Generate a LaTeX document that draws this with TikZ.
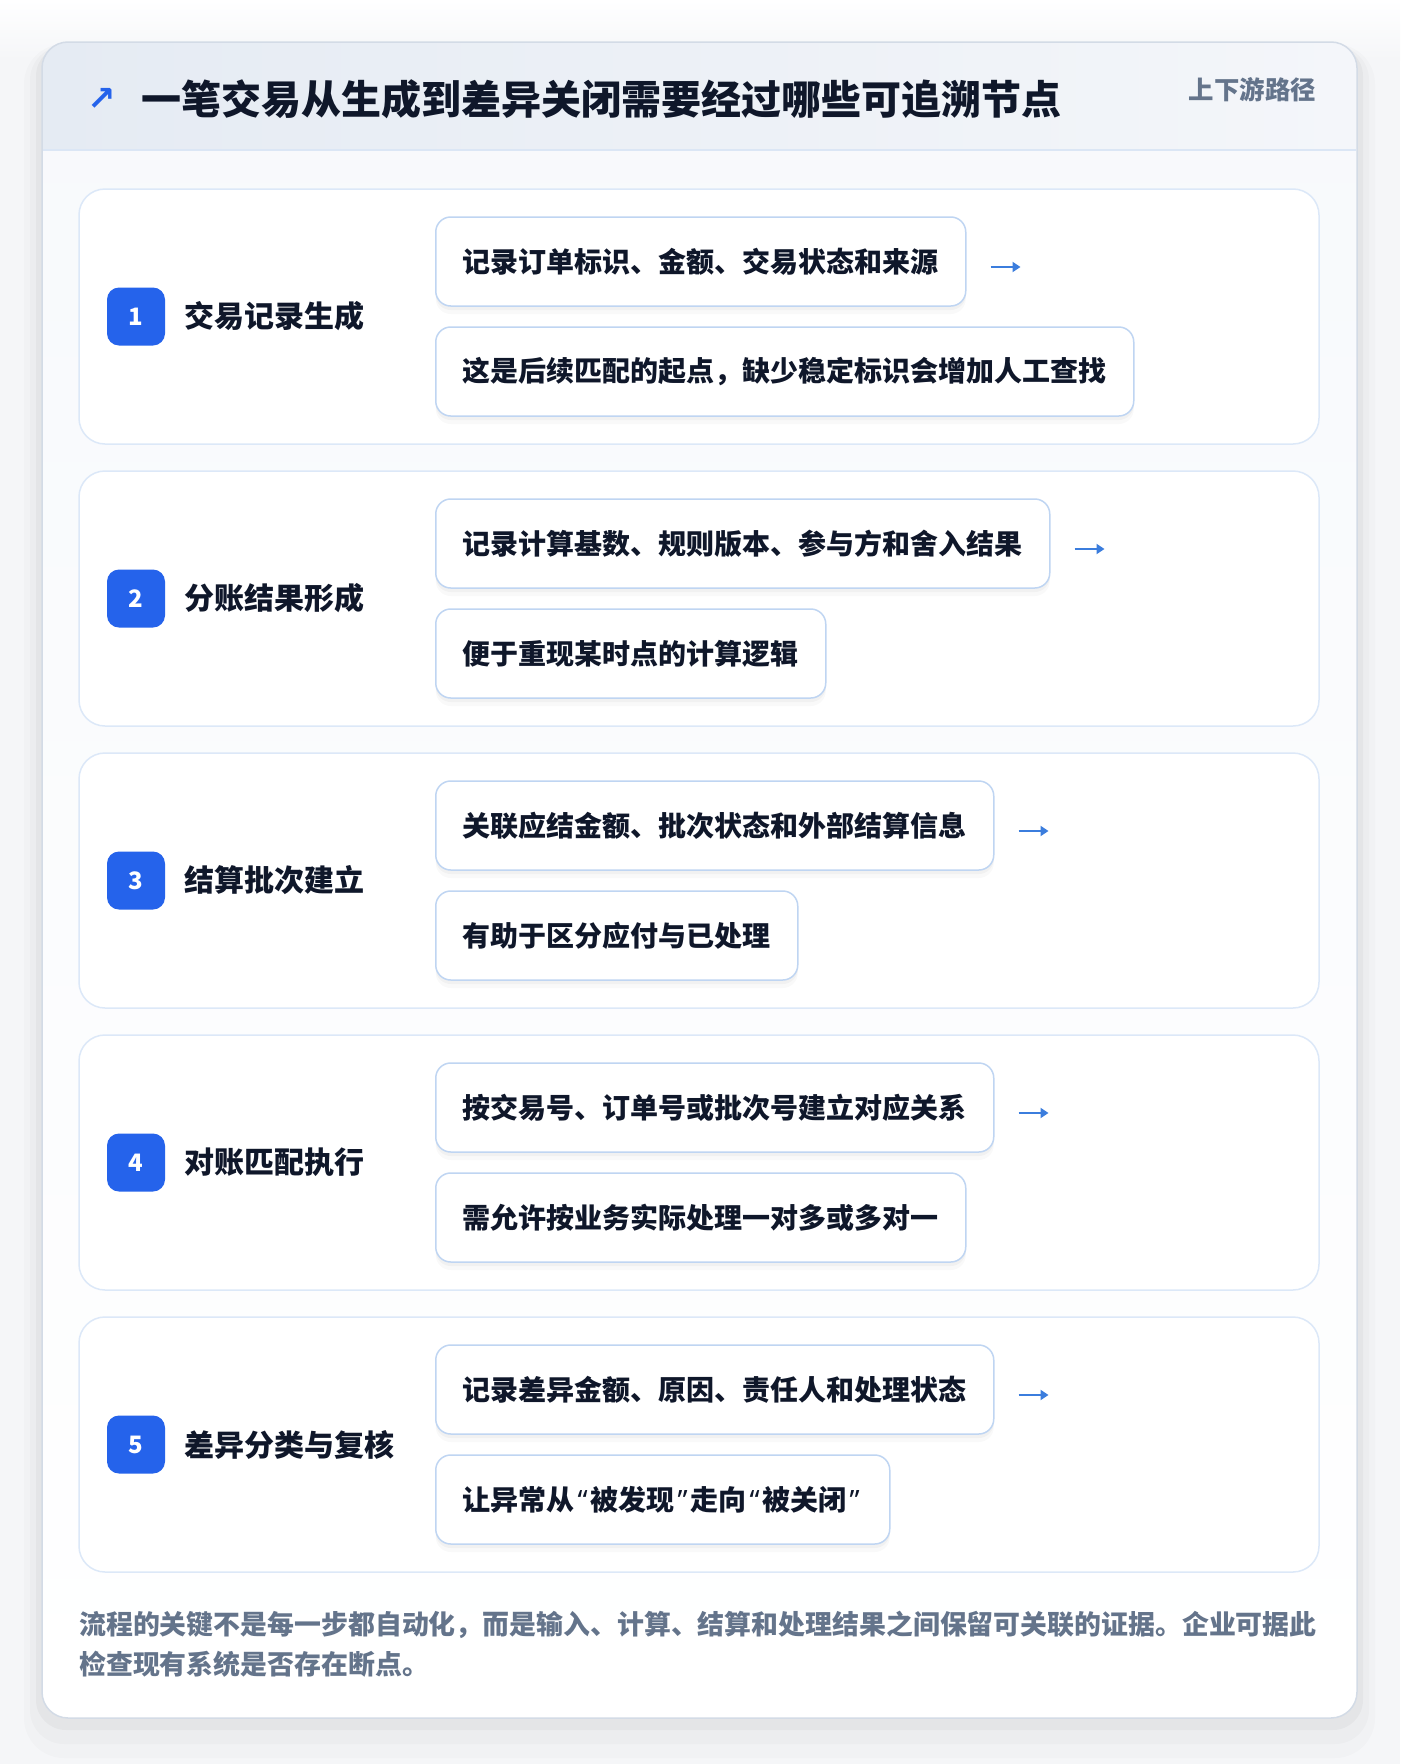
\documentclass[tikz,border=0pt]{standalone}
\usepackage{fontspec}
\setmainfont{Noto Sans CJK SC}
\newfontfamily\quotefont{Noto Sans}
\usetikzlibrary{shadows,arrows.meta}

\definecolor{pagebg}{HTML}{F5F6F8}
\definecolor{ink}{HTML}{0F172A}
\definecolor{muted}{HTML}{64748B}
\definecolor{accent}{HTML}{2563EB}
\definecolor{arrowblue}{HTML}{3B7DDD}
\definecolor{cardline}{HTML}{D3DBE6}
\definecolor{stepline}{HTML}{DCE8F8}
\definecolor{boxline}{HTML}{BFD5F2}
\definecolor{hdrleft}{HTML}{E5EBF3}
\definecolor{hdrright}{HTML}{F4F6FA}
\definecolor{hdrrule}{HTML}{DBE6F5}
\definecolor{bodytop}{HTML}{F7F9FC}

% Narrow quotes as in the reference
\newcommand{\openq}{\makebox[16pt][c]{\quotefont\bfseries“}}
\newcommand{\closeq}{\makebox[16pt][c]{\quotefont\bfseries”}}

\begin{document}
\begin{tikzpicture}[x=1pt, y=-1pt,
  stepcard/.style={draw=stepline, line width=1.5pt, fill=white, rounded corners=26pt,
    minimum width=1240pt, minimum height=255pt},
  badge/.style={fill=accent, rounded corners=12pt, minimum size=58pt, inner sep=0pt,
    text=white, font=\fontsize{24}{24}\selectfont\bfseries},
  steptitle/.style={anchor=west, inner sep=0pt, text=ink, font=\fontsize{30}{30}\selectfont\bfseries},
  infobox/.style={anchor=west, draw=boxline, line width=1.5pt, fill=white, rounded corners=15pt,
    minimum height=89pt, inner xsep=27pt, text=ink, font=\fontsize{28}{28}\selectfont\bfseries,
    drop shadow={shadow xshift=0pt, shadow yshift=-8pt, opacity=0.025, fill=black},
    drop shadow={shadow xshift=0pt, shadow yshift=-4pt, opacity=0.03, fill=black}},
  flowarrow/.style={draw=arrowblue, line width=2.6pt, -{Triangle[length=8pt, width=10pt]}}]
\useasboundingbox (0,0) rectangle (1400,1764);
\fill[pagebg] (0,0) rectangle (1400,1764);
\shade[top color=white, bottom color=pagebg] (0,0) rectangle (1400,60);

% Card shadow
\fill[black, opacity=0.015, rounded corners=40pt] (24,44) rectangle (1375,1758);
\fill[black, opacity=0.02, rounded corners=34pt] (30,46) rectangle (1369,1744);
\fill[black, opacity=0.03, rounded corners=30pt] (36,46) rectangle (1363,1730);

% Card body and header band
\shade[top color=bodytop, bottom color=white, rounded corners=26pt] (42,42) rectangle (1357,1718);
\begin{scope}
\clip[rounded corners=26pt] (42,42) rectangle (1357,1718);
\shade[left color=hdrleft, right color=hdrright] (42,42) rectangle (1357,150);
\end{scope}
\draw[hdrrule, line width=1.5pt] (43,150) -- (1356,150);
\draw[cardline, line width=1.5pt, rounded corners=26pt] (42,42) rectangle (1357,1718);

% Title
\node[text=accent, font=\fontspec{DejaVu Sans}\fontsize{34}{34}\selectfont\bfseries] (icon) at (102,99) {↗};
\node[anchor=west, inner sep=0pt, text=ink, font=\fontsize{40}{40}\selectfont\bfseries] (title) at (141,99)
  {一笔交易从生成到差异关闭需要经过哪些可追溯节点};
\node[anchor=east, inner sep=0pt, text=muted, font=\fontsize{25.4}{26}\selectfont\bfseries] (tag) at (1316,90)
  {上下游路径};

% Step 1
\node[stepcard] (card1) at (699,316.5) {};
\node[badge] (num1) at (136,316.5) {1};
\node[steptitle] (name1) at (184,316.5) {交易记录生成};
\node[infobox] (info1a) at (435,261.5) {记录订单标识、金额、交易状态和来源};
\node[infobox] (info1b) at (435,371.5) {这是后续匹配的起点，缺少稳定标识会增加人工查找};
\coordinate (next1) at ([xshift=24pt, yshift=-5.5pt]info1a.east);
\draw[flowarrow] (next1) -- ++(30,0);

% Step 2
\node[stepcard] (card2) at (699,598.5) {};
\node[badge] (num2) at (136,598.5) {2};
\node[steptitle] (name2) at (184,598.5) {分账结果形成};
\node[infobox] (info2a) at (435,543.5) {记录计算基数、规则版本、参与方和舍入结果};
\node[infobox] (info2b) at (435,653.5) {便于重现某时点的计算逻辑};
\coordinate (next2) at ([xshift=24pt, yshift=-5.5pt]info2a.east);
\draw[flowarrow] (next2) -- ++(30,0);

% Step 3
\node[stepcard] (card3) at (699,880.5) {};
\node[badge] (num3) at (136,880.5) {3};
\node[steptitle] (name3) at (184,880.5) {结算批次建立};
\node[infobox] (info3a) at (435,825.5) {关联应结金额、批次状态和外部结算信息};
\node[infobox] (info3b) at (435,935.5) {有助于区分应付与已处理};
\coordinate (next3) at ([xshift=24pt, yshift=-5.5pt]info3a.east);
\draw[flowarrow] (next3) -- ++(30,0);

% Step 4
\node[stepcard] (card4) at (699,1162.5) {};
\node[badge] (num4) at (136,1162.5) {4};
\node[steptitle] (name4) at (184,1162.5) {对账匹配执行};
\node[infobox] (info4a) at (435,1107.5) {按交易号、订单号或批次号建立对应关系};
\node[infobox] (info4b) at (435,1217.5) {需允许按业务实际处理一对多或多对一};
\coordinate (next4) at ([xshift=24pt, yshift=-5.5pt]info4a.east);
\draw[flowarrow] (next4) -- ++(30,0);

% Step 5
\node[stepcard] (card5) at (699,1444.5) {};
\node[badge] (num5) at (136,1444.5) {5};
\node[steptitle] (name5) at (184,1444.5) {差异分类与复核};
\node[infobox] (info5a) at (435,1389.5) {记录差异金额、原因、责任人和处理状态};
\node[infobox] (info5b) at (435,1499.5) {让异常从\openq 被发现\closeq 走向\openq 被关闭\closeq};
\coordinate (next5) at ([xshift=24pt, yshift=-5.5pt]info5a.east);
\draw[flowarrow] (next5) -- ++(30,0);

% Note
\node[anchor=north west, inner sep=0pt, align=left, text=muted, font=\fontsize{26.9}{40}\selectfont\bfseries] (note) at (79,1611)
  {流程的关键不是每一步都自动化，而是输入、计算、结算和处理结果之间保留可关联的证据。企业可据此\\检查现有系统是否存在断点。};
\end{tikzpicture}
\end{document}
